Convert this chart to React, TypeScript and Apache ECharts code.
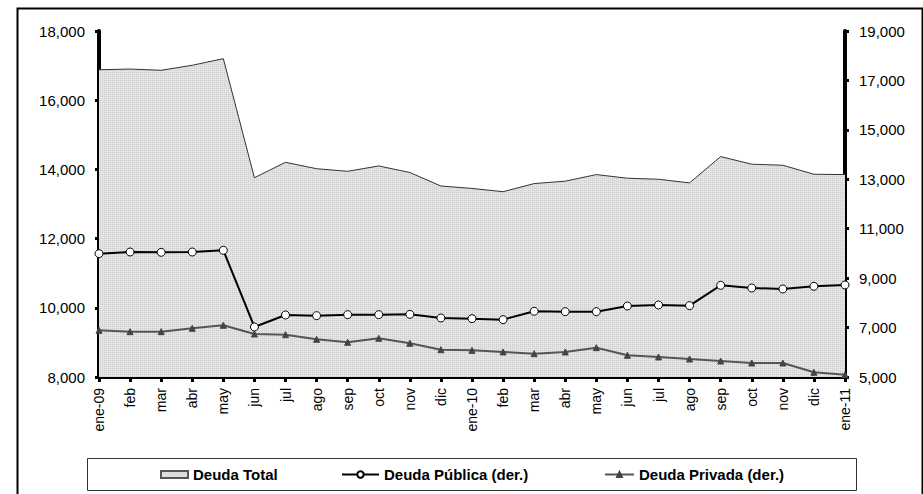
import React, { useEffect, useRef } from "react";
import * as echarts from "echarts";

const categories = ["ene-09","feb","mar","abr","may","jun","jul","ago","sep","oct","nov","dic","ene-10","feb","mar","abr","may","jun","jul","ago","sep","oct","nov","dic","ene-11"];
const deudaTotal = [16880, 16900, 16865, 17010, 17200, 13760, 14205, 14020, 13945, 14100, 13910, 13520, 13450, 13355, 13590, 13660, 13850, 13745, 13715, 13610, 14370, 14150, 14120, 13860, 13850];
const deudaPublica = [9990, 10058, 10045, 10058, 10126, 7024, 7509, 7482, 7522, 7522, 7536, 7388, 7360, 7320, 7659, 7644, 7644, 7873, 7914, 7887, 8710, 8602, 8561, 8670, 8723];
const deudaPrivada = [6890, 6834, 6834, 6971, 7093, 6740, 6713, 6526, 6405, 6567, 6364, 6105, 6081, 6013, 5944, 6013, 6187, 5879, 5810, 5729, 5648, 5567, 5567, 5190, 5094];
const seriesNames = ["Deuda Total", "Deuda Pública (der.)", "Deuda Privada (der.)"];

function makePattern(): string {
  const c = document.createElement("canvas");
  c.width = 2;
  c.height = 2;
  const ctx = c.getContext("2d");
  if (ctx) {
    ctx.fillStyle = "#e4e4e4";
    ctx.fillRect(0, 0, 2, 2);
    ctx.fillStyle = "#cbcbcb";
    ctx.fillRect(0, 0, 1, 1);
  }
  return c.toDataURL();
}

const FONT = "Arial, 'Liberation Sans', sans-serif";

export default function App() {
  const ref = useRef<HTMLDivElement>(null);
  useEffect(() => {
    if (!ref.current) return;
    const chart = echarts.init(ref.current, null, { renderer: "svg" });
    const patternSrc = makePattern();
    const fillColor: any = { image: patternSrc, repeat: "repeat", imageWidth: 2, imageHeight: 2 };
    const legendBase = {
      top: 467,
      padding: 0,
      textStyle: { fontFamily: FONT, fontSize: 15, fontWeight: "bold", color: "#000" },
      itemGap: 0,
    };
    chart.setOption({
      animation: false,
      backgroundColor: "#fff",
      textStyle: { fontFamily: FONT },
      grid: { left: 99, right: 78, top: 31, bottom: 117, containLabel: false },
      xAxis: {
        type: "category",
        data: categories,
        boundaryGap: false,
        axisLine: { lineStyle: { color: "#000", width: 4 } },
        axisTick: { show: true, length: 5, lineStyle: { color: "#000", width: 3 }, interval: 0 },
        axisLabel: { rotate: 90, interval: 0, fontSize: 14, color: "#000", margin: 11, fontFamily: FONT },
        splitLine: { show: false },
      },
      yAxis: [
        {
          type: "value",
          min: 8000,
          max: 18000,
          interval: 2000,
          position: "left",
          axisLine: { show: true, lineStyle: { color: "#000", width: 4 } },
          axisTick: { show: true, length: 4, lineStyle: { color: "#000", width: 3 } },
          axisLabel: {
            fontSize: 15,
            color: "#000",
            margin: 14,
            fontFamily: FONT,
            formatter: (v: number) => v.toLocaleString("en-US"),
          },
          splitLine: { show: false },
        },
        {
          type: "value",
          min: 5000,
          max: 19000,
          interval: 2000,
          position: "right",
          axisLine: { show: true, lineStyle: { color: "#000", width: 4 } },
          axisTick: { show: true, length: 4, lineStyle: { color: "#000", width: 3 } },
          axisLabel: {
            fontSize: 15,
            color: "#000",
            margin: 14,
            fontFamily: FONT,
            formatter: (v: number) => v.toLocaleString("en-US"),
          },
          splitLine: { show: false },
        },
      ],
      legend: [
        {
          ...legendBase,
          left: 160,
          data: [{ name: seriesNames[0], icon: "rect" }],
          itemWidth: 27,
          itemHeight: 7,
        },
        {
          ...legendBase,
          left: 341,
          data: [seriesNames[1]],
          itemWidth: 37,
          itemHeight: 8,
        },
        {
          ...legendBase,
          left: 604,
          data: [seriesNames[2]],
          itemWidth: 29,
          itemHeight: 6,
        },
      ],
      graphic: [
        {
          type: "rect",
          left: 15,
          top: 6,
          shape: { x: 0, y: 0, width: 905, height: 500 },
          style: { fill: "none", stroke: "#000", lineWidth: 2 },
          silent: true,
          z: -10,
        },
        {
          type: "rect",
          shape: { x: 87.5, y: 458.5, width: 769, height: 32 },
          style: { fill: "none", stroke: "#333", lineWidth: 1 },
          silent: true,
          z: -10,
        },
      ],
      series: [
        {
          name: seriesNames[0],
          type: "line",
          yAxisIndex: 0,
          data: deudaTotal,
          symbol: "none",
          lineStyle: { color: "#333", width: 1 },
          itemStyle: { color: "#dcdcdc", borderColor: "#555", borderWidth: 1 },
          areaStyle: { color: fillColor, opacity: 1, origin: "start" },
          z: 1,
        },
        {
          name: seriesNames[1],
          type: "line",
          yAxisIndex: 1,
          data: deudaPublica,
          symbol: "circle",
          symbolSize: 8,
          lineStyle: { color: "#000", width: 2 },
          itemStyle: { color: "#fff", borderColor: "#000", borderWidth: 1 },
          z: 3,
        },
        {
          name: seriesNames[2],
          type: "line",
          yAxisIndex: 1,
          data: deudaPrivada,
          symbol: "triangle",
          symbolSize: 6,
          lineStyle: { color: "#555", width: 2 },
          itemStyle: { color: "#444", borderColor: "#444", borderWidth: 1 },
          z: 2,
        },
      ],
    });
    return () => chart.dispose();
  }, []);
  return (
    <div
      ref={ref}
      style={{ position: "absolute", left: 0, top: 0, width: 923, height: 494 }}
    />
  );
}
